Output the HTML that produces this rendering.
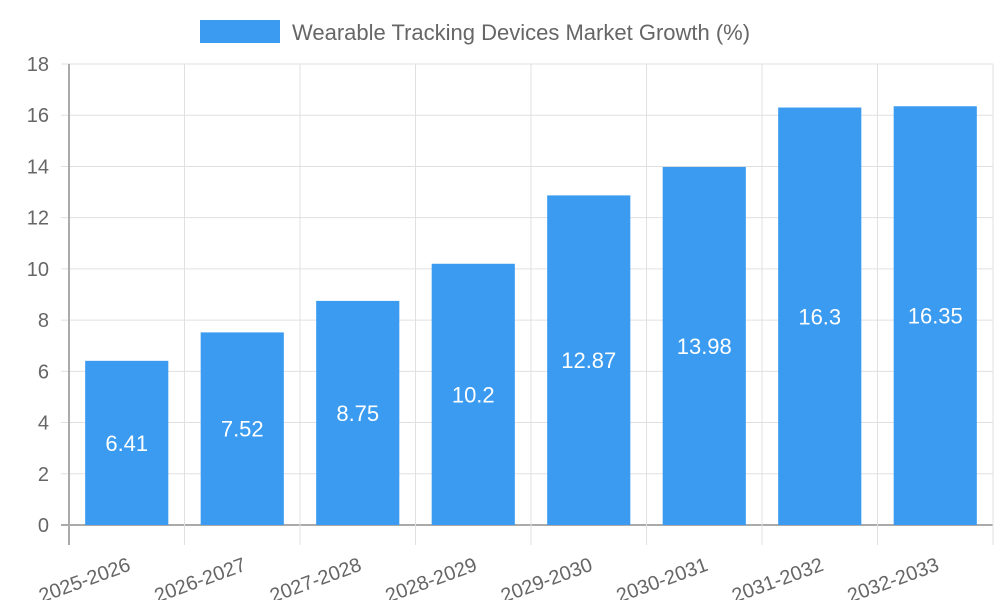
<!DOCTYPE html>
<html><head><meta charset="utf-8"><style>
body{margin:0;background:#fff;}
svg{font-family:"Liberation Sans",sans-serif;}
</style></head><body>
<svg id="chart" width="1000" height="600">
<g>
<rect x="200" y="20" width="80" height="23" fill="#3a9bf0"></rect>
<text x="292" y="40" font-size="22" fill="#666">Wearable Tracking Devices Market Growth (%)</text>
</g>
<g id="grid"></g>
<g id="bars"></g>
<g id="axes"></g>
</svg>
<script>
const categories=["2025-2026","2026-2027","2027-2028","2028-2029","2029-2030","2030-2031","2031-2032","2032-2033"];
const values=[6.41,7.52,8.75,10.2,12.87,13.98,16.3,16.35];
const valueLabels=["6.41","7.52","8.75","10.2","12.87","13.98","16.3","16.35"];
const yTicks=[0,2,4,6,8,10,12,14,16,18];
const NS="http://www.w3.org/2000/svg";
const L=69,R=993,T=64,B=525,yMax=18;
const y=v=>B-(v/yMax)*(B-T);
const bw=(R-L)/categories.length;
const x=i=>L+i*bw;
function mk(tag,attrs,parent,text){const e=document.createElementNS(NS,tag);for(const k in attrs)e.setAttribute(k,attrs[k]);if(text!==undefined)e.textContent=text;parent.appendChild(e);return e;}
const grid=document.getElementById('grid'),bars=document.getElementById('bars'),axes=document.getElementById('axes');
yTicks.forEach(t=>{
 const l=mk('line',{x1:L-8,x2:R,y1:y(t),y2:y(t),stroke:t===0?'#aaa':'#e0e0e0','stroke-width':t===0?2:1},grid);
 
 
 const tx=mk('text',{x:L-20,y:y(t)+7,'font-size':20,fill:'#666','text-anchor':'end'},axes,String(t));
 
 
});
for(let i=0;i<=categories.length;i++){
 const l=mk('line',{x1:x(i),x2:x(i),y1:T,y2:B+20,stroke:i===0?'#aaa':'#e0e0e0','stroke-width':i===0?2:1},grid);
 
 
}
categories.forEach((c,i)=>{
 const w=bw*0.72,cx=x(i)+bw/2;
 const r=mk('rect',{x:cx-w/2,y:y(values[i]),width:w,height:B-y(values[i]),fill:'#3a9bf0'},bars);
 
 
 const vl=mk('text',{x:cx,y:(y(values[i])+B)/2+8,'font-size':22,fill:'#fff','text-anchor':'middle'},bars,valueLabels[i]);
 
 
 const tl=mk('text',{x:0,y:0,'font-size':20,fill:'#666','text-anchor':'end',transform:`translate(${x(i)+bw/2+5},${B+45}) rotate(-20)`},axes,c);
 
 
});
</script>
</body></html>
